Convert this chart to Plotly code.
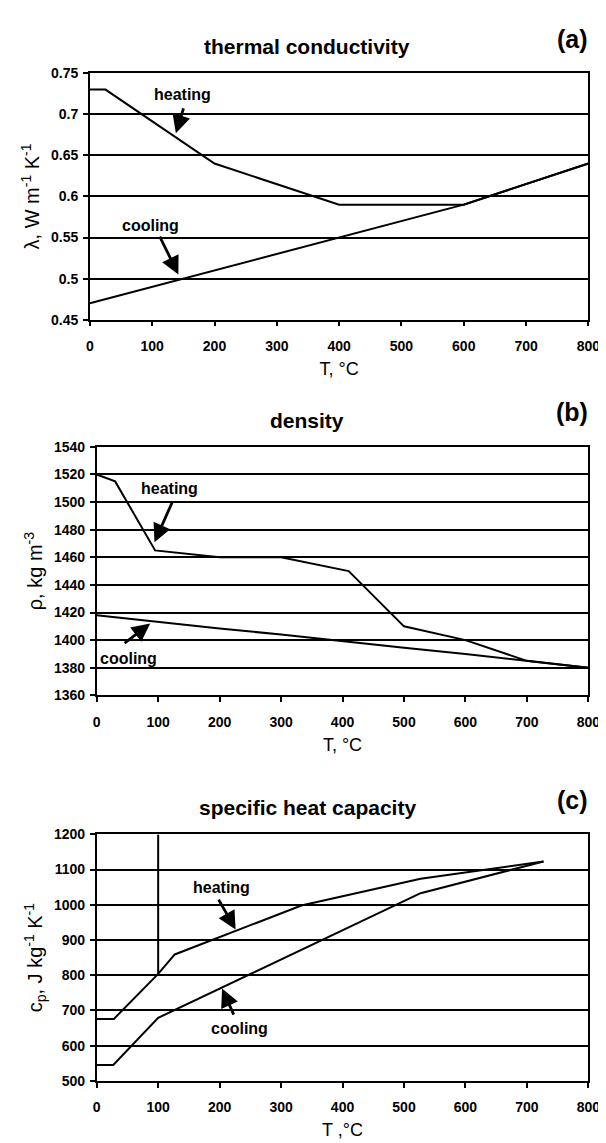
import plotly.graph_objects as go

# ---------------- data ----------------
# (a) thermal conductivity
a_heat_T = [0, 25, 200, 400, 600, 800]
a_heat_v = [0.73, 0.73, 0.64, 0.59, 0.59, 0.64]
a_cool_T = [0, 200, 400, 600, 800]
a_cool_v = [0.47, 0.51, 0.55, 0.59, 0.64]

# (b) density
b_heat_T = [0, 30, 95, 200, 300, 410, 500, 600, 700, 800]
b_heat_v = [1520, 1515, 1465, 1460, 1460, 1450, 1410, 1400, 1385, 1380]
b_cool_T = [0, 100, 200, 300, 400, 500, 600, 700, 800]
b_cool_v = [1418, 1413, 1408.5, 1404, 1399, 1394.5, 1390, 1385, 1380]

# (c) specific heat capacity
c_heat_T = [0, 28, 100, 127, 333, 527, 727]
c_heat_v = [676, 676, 804, 859, 998, 1074, 1123]
c_peak_T = [100, 100]
c_peak_v = [804, 1200]
c_cool_T = [0, 27, 100, 527, 727]
c_cool_v = [545, 545, 679, 1033, 1123]

x_ticks = [0, 100, 200, 300, 400, 500, 600, 700, 800]
a_yticks = [0.45, 0.5, 0.55, 0.6, 0.65, 0.7, 0.75]
a_ylabels = ["0.45", "0.5", "0.55", "0.6", "0.65", "0.7", "0.75"]
b_yticks = [1360, 1380, 1400, 1420, 1440, 1460, 1480, 1500, 1520, 1540]
c_yticks = [500, 600, 700, 800, 900, 1000, 1100, 1200]

titles = ["thermal conductivity", "density", "specific heat capacity"]
panel_tags = ["(a)", "(b)", "(c)"]
y_titles = ["λ, W m<sup>-1</sup> K<sup>-1</sup>", "ρ, kg m<sup>-3</sup>",
            "c<sub>p</sub>, J kg<sup>-1</sup> K<sup>-1</sup>"]
x_titles = ["T, °C", "T, °C", "T ,°C"]

# ---------------- figure ----------------
W, H = 606, 1143
FONT = "Liberation Sans, Arial, sans-serif"
NARROW = "Liberation Sans Narrow, Liberation Sans, Arial, sans-serif"

fig = go.Figure()
line = dict(color="black", width=2)

fig.add_trace(go.Scatter(x=a_heat_T, y=a_heat_v, mode="lines", line=line, xaxis="x", yaxis="y"))
fig.add_trace(go.Scatter(x=a_cool_T, y=a_cool_v, mode="lines", line=line, xaxis="x", yaxis="y"))
fig.add_trace(go.Scatter(x=b_heat_T, y=b_heat_v, mode="lines", line=line, xaxis="x2", yaxis="y2"))
fig.add_trace(go.Scatter(x=b_cool_T, y=b_cool_v, mode="lines", line=line, xaxis="x2", yaxis="y2"))
fig.add_trace(go.Scatter(x=c_heat_T, y=c_heat_v, mode="lines", line=line, xaxis="x3", yaxis="y3"))
fig.add_trace(go.Scatter(x=c_peak_T, y=c_peak_v, mode="lines", line=line, xaxis="x3", yaxis="y3"))
fig.add_trace(go.Scatter(x=c_cool_T, y=c_cool_v, mode="lines", line=line, xaxis="x3", yaxis="y3"))

# pixel layout of the three plot areas: (left, right, top, bottom)
boxes = [(80, 592, 58, 308), (87, 592, 437, 689), (87, 592, 830, 1080)]
yranges = [(0.45, 0.75), (1360, 1540), (500, 1200)]
yticks = [a_yticks, b_yticks, c_yticks]
ylabels = [a_ylabels, [str(v) for v in b_yticks], [str(v) for v in c_yticks]]

tickfont = dict(family=FONT, size=14, color="black", weight="bold")
axis_common = dict(showline=True, linecolor="black", linewidth=1.6, mirror=True,
                   ticks="outside", ticklen=5, tickwidth=1.6, tickcolor="black",
                   zeroline=False, tickfont=tickfont)

layout = dict(width=W, height=H, margin=dict(l=0, r=0, t=0, b=0),
              paper_bgcolor="white", plot_bgcolor="white", showlegend=False,
              font=dict(family=FONT, color="black"))

annotations = []
for i, (l, r, t, b) in enumerate(boxes):
    sfx = "" if i == 0 else str(i + 1)
    xd = [l / W, r / W]
    yd = [1 - b / H, 1 - t / H]
    layout["xaxis" + sfx] = dict(domain=xd, range=[0, 800], tickvals=x_ticks,
                                 ticktext=[str(v) for v in x_ticks], showgrid=False,
                                 anchor="y" + sfx, ticklabelstandoff=8,
                                 title=dict(text=x_titles[i], font=dict(family=FONT, size=18),
                                            standoff=9),
                                 **axis_common)
    layout["yaxis" + sfx] = dict(domain=yd, range=list(yranges[i]), tickvals=yticks[i],
                                 ticktext=ylabels[i], showgrid=True, gridcolor="black",
                                 gridwidth=1.6, anchor="x" + sfx, ticklabelstandoff=2,
                                 title=dict(text=y_titles[i], font=dict(family=FONT, size=20),
                                            standoff=6),
                                 **axis_common)
    # panel title (centred on the page)
    annotations.append(dict(text="<b>" + titles[i] + "</b>", xref="paper", yref="paper",
                            x=0.5, y=1 - (t - 27) / H, showarrow=False,
                            xanchor="center", yanchor="middle",
                            font=dict(family=FONT, size=21, color="black")))
    annotations.append(dict(text="<b>" + panel_tags[i] + "</b>", xref="paper", yref="paper",
                            x=594 / W, y=1 - (t - 35) / H, showarrow=False,
                            xanchor="right", yanchor="middle",
                            font=dict(family=FONT, size=25, color="black")))

# label + arrow annotations (text position, arrow tail, arrow head) in data units
labels = [
    ("x", "y", "heating", (148, 0.724), (151, 0.709), (138, 0.677)),
    ("x", "y", "cooling", (97, 0.565), (111, 0.553), (142, 0.505)),
    ("x2", "y2", "heating", (119, 1510), (124, 1501), (94, 1471)),
    ("x2", "y2", "cooling", (51, 1387), (43, 1397), (87, 1412)),
    ("x3", "y3", "heating", (203, 1050), (197, 1019), (226, 930)),
    ("x3", "y3", "cooling", (232, 649), (224, 684), (204, 762)),
]
for xr, yr, txt, tp, tail, head in labels:
    annotations.append(dict(text="<b>" + txt + "</b>", xref=xr, yref=yr, x=tp[0], y=tp[1],
                            showarrow=False, font=dict(family=NARROW, size=16, color="black")))
    annotations.append(dict(text="", xref=xr, yref=yr, x=head[0], y=head[1],
                            axref=xr, ayref=yr, ax=tail[0], ay=tail[1], showarrow=True,
                            arrowhead=2, arrowsize=1.3, arrowwidth=2.8, arrowcolor="black",
                            standoff=0, startstandoff=0))

layout["annotations"] = annotations
fig.update_layout(**layout)
fig.write_html("out.html")
